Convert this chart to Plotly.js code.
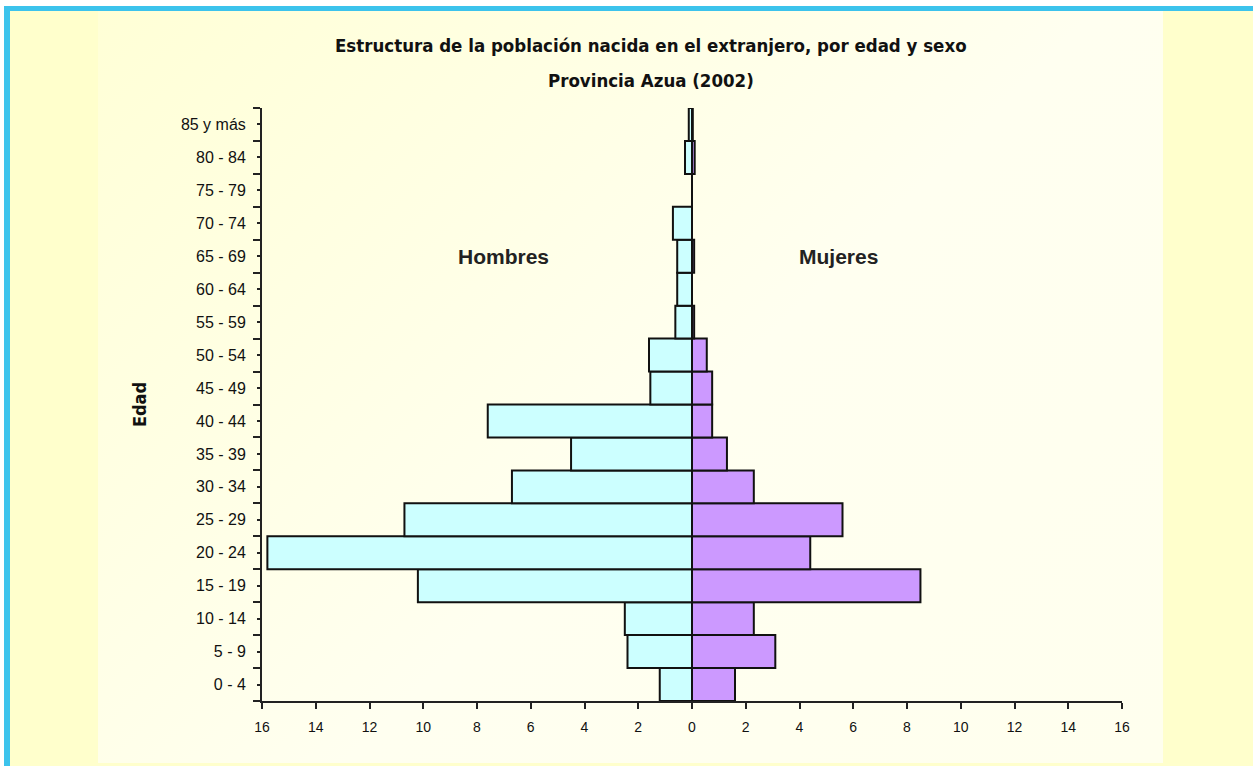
<!DOCTYPE html>
<html>
<head>
<meta charset="utf-8">
<script src="https://cdn.plot.ly/plotly-3.0.1.min.js"></script>
<style>
  html, body { margin:0; padding:0; background:#ffffff; }
  #frame { position:absolute; left:4px; top:6px; width:1243px; height:760px;
           border-top:5px solid #3cc3ec; border-left:6px solid #3cc3ec; border-right:3px solid #5fd0ee;
           background:#ffffcc; }
  #panel { position:absolute; left:98px; top:11px; width:1065px; height:752px;
           background:linear-gradient(135deg, #ffffd6 0%, #fffff0 55%, #ffffee 100%); }
  #chart { position:absolute; left:0; top:0; width:1253px; height:766px; }
</style>
</head>
<body>
<div id="frame"></div>
<div id="panel"></div>
<div id="chart"></div>
<script>
const categories = ["0 - 4","5 - 9","10 - 14","15 - 19","20 - 24","25 - 29","30 - 34","35 - 39","40 - 44","45 - 49","50 - 54","55 - 59","60 - 64","65 - 69","70 - 74","75 - 79","80 - 84","85 y más"];
const hombres = [1.2, 2.4, 2.5, 10.2, 15.8, 10.7, 6.7, 4.5, 7.6, 1.55, 1.6, 0.62, 0.55, 0.55, 0.71, 0, 0.26, 0.12];
const mujeres = [1.6, 3.1, 2.3, 8.5, 4.4, 5.6, 2.3, 1.3, 0.75, 0.75, 0.55, 0.08, 0, 0.08, 0, 0, 0.1, 0.03];
const xTicks = [-16,-14,-12,-10,-8,-6,-4,-2,0,2,4,6,8,10,12,14,16];
const titleLines = ["Estructura de la población nacida en el extranjero, por edad y sexo", "Provincia Azua (2002)"];

const yPos = categories.map((c, i) => i);
const base = '"Liberation Sans", Arial, sans-serif';
const cond = '"DejaVu Sans Condensed", "Liberation Sans Narrow", "Liberation Sans", Arial, sans-serif';

const traces = [
  { type:'bar', orientation:'h', name:'Hombres', y:yPos, x:hombres.map(v => -v), width:1,
    marker:{ color:'#ccffff', line:{ color:'#111111', width:2 } }, hoverinfo:'skip' },
  { type:'bar', orientation:'h', name:'Mujeres', y:yPos, x:mujeres, width:1,
    marker:{ color:'#cc99ff', line:{ color:'#111111', width:2 } }, hoverinfo:'skip' }
];

const layout = {
  width:1253, height:766,
  paper_bgcolor:'rgba(0,0,0,0)', plot_bgcolor:'rgba(0,0,0,0)',
  margin:{ l:262, r:131, t:108, b:65 },
  barmode:'overlay', bargap:0, showlegend:false,
  font:{ family:base, color:'#111111', size:14 },
  xaxis:{ range:[-16,16], tickvals:xTicks, ticktext:xTicks.map(v => String(Math.abs(v))),
          showgrid:false, zeroline:true, zerolinecolor:'#333333', zerolinewidth:1.5,
          showline:true, linecolor:'#222222', linewidth:2,
          ticks:'outside', ticklen:6, tickwidth:2, tickcolor:'#222222', ticklabelstandoff:6,
          tickfont:{ family:base, size:14, color:'#111111' }, fixedrange:true },
  yaxis:{ range:[-0.5,17.5], tickvals:yPos, ticktext:categories,
          showgrid:false, zeroline:false,
          showline:true, linecolor:'#222222', linewidth:2,
          ticks:'outside', ticklen:3, tickwidth:2, tickcolor:'#222222', ticklabelstandoff:8,
          minor:{ tickvals:yPos.map(i => i - 0.5).concat([17.5]), ticks:'outside', ticklen:7, tickwidth:2, tickcolor:'#222222', showgrid:false },
          tickfont:{ family:base, size:16, color:'#111111' },
          title:{ text:'<b>Edad</b>', standoff:30, font:{ family:cond, size:18, color:'#111111' } },
          fixedrange:true },
  annotations:[
    { text:'<b>' + titleLines[0] + '</b>', x:0.4523, y:1.1062, xref:'paper', yref:'paper', showarrow:false,
      xanchor:'center', yanchor:'middle', font:{ family:cond, size:18.5, color:'#111111' } },
    { text:'<b>' + titleLines[1] + '</b>', x:0.4523, y:1.0472, xref:'paper', yref:'paper', showarrow:false,
      xanchor:'center', yanchor:'middle', font:{ family:cond, size:18.5, color:'#111111' } },
    { text:'<b>Hombres</b>', x:-7, y:13, xref:'x', yref:'y', showarrow:false,
      font:{ family:base, size:21, color:'#222222' } },
    { text:'<b>Mujeres</b>', x:5.45, y:13, xref:'x', yref:'y', showarrow:false,
      font:{ family:base, size:21, color:'#222222' } }
  ]
};

Plotly.newPlot('chart', traces, layout, { displayModeBar:false, staticPlot:true });
</script>
</body>
</html>
